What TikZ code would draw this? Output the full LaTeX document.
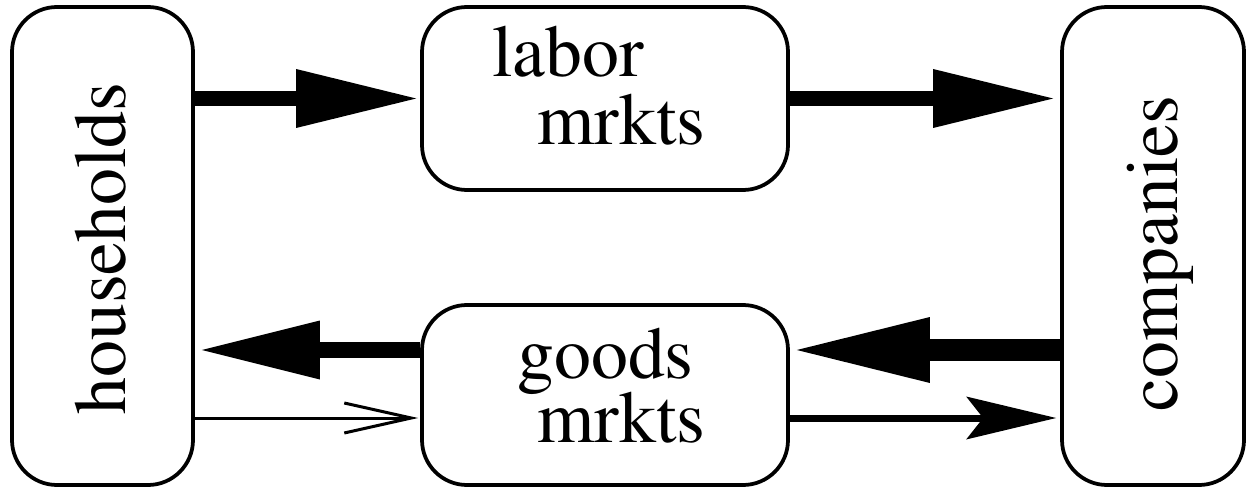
\documentclass[tikz,border=0pt]{standalone}
\usepackage[T1]{fontenc}
\usepackage{mathptmx}
\usetikzlibrary{positioning}
\usetikzlibrary{calc}
\usetikzlibrary{arrows.meta}

\begin{document}
\begin{tikzpicture}[on grid, box/.style={draw, line width=0.075cm, rounded corners=0.9cm, inner sep=0pt}, word/.style={font=\fontsize{42}{50}\selectfont, inner sep=0pt}, flow/.style={line width=0.3cm, -{Stealth[length=2.4cm, width=1.18cm, inset=0pt, line width=0pt]}}, back/.style={line width=0.32cm, -{Stealth[length=2.36cm, width=1.18cm, inset=0pt, line width=0pt]}}, heavy/.style={line width=0.44cm, -{Stealth[length=2.66cm, width=1.32cm, inset=0pt, line width=0pt]}}, spend/.style={line width=0.06cm, -{Straight Barb[length=1.34cm, width=0.6cm]}}, sales/.style={line width=0.14cm, -{Stealth[length=1.8cm, width=0.86cm, inset=0.34cm, line width=0pt]}}]
		\useasboundingbox (0,0) rectangle (24.94,9.78);
		\node[box, minimum width=3.62cm, minimum height=9.56cm] (households) at (2.05,4.86) {};
		\node[box, minimum width=7.32cm, minimum height=3.66cm] (labor) [above right = 2.95cm and 10.05cm of households] {};
		\node[box, minimum width=7.32cm, minimum height=3.6cm] (goods) [below = 5.93cm of labor] {};
		\node[box, minimum width=3.64cm, minimum height=9.56cm] (companies) [right = 21.01cm of households] {};
		\node[word, rotate=90, anchor=base] (householdsText) at ($(households)+(0.45,-0.05)$) {households};
		\node[word, rotate=90, anchor=base] (companiesText) at ($(companies)+(0.48,-0.15)$) {companies};
		\node[word, anchor=base west] (laborA) at ($(labor)+(-2.26,0.43)$) {labor};
		\node[word, anchor=base west] (laborB) at ($(labor)+(-1.36,-0.93)$) {mrkts};
		\node[word, anchor=base west] (goodsA) at ($(goods)+(-1.76,0.34)$) {goods};
		\node[word, anchor=base west] (goodsB) at ($(goods)+(-1.36,-0.94)$) {mrkts};
		\path (households.east |- labor) edge[flow, shorten >=0.08cm] (labor.west)
		(labor.east) edge[flow, shorten >=0.14cm] (companies.west |- labor)
		([yshift=0.9cm]companies.west |- goods) edge[heavy, shorten >=0.14cm] ([yshift=0.9cm]goods.east)
		([yshift=0.9cm]goods.west) edge[back, shorten >=0.14cm] ([yshift=0.9cm]households.east |- goods)
		([yshift=-0.46cm]households.east |- goods) edge[spend, shorten >=0.04cm] ([yshift=-0.46cm]goods.west)
		([yshift=-0.46cm]goods.east) edge[sales, shorten >=0.08cm] ([yshift=-0.46cm]companies.west |- goods);
\end{tikzpicture}
\end{document}
